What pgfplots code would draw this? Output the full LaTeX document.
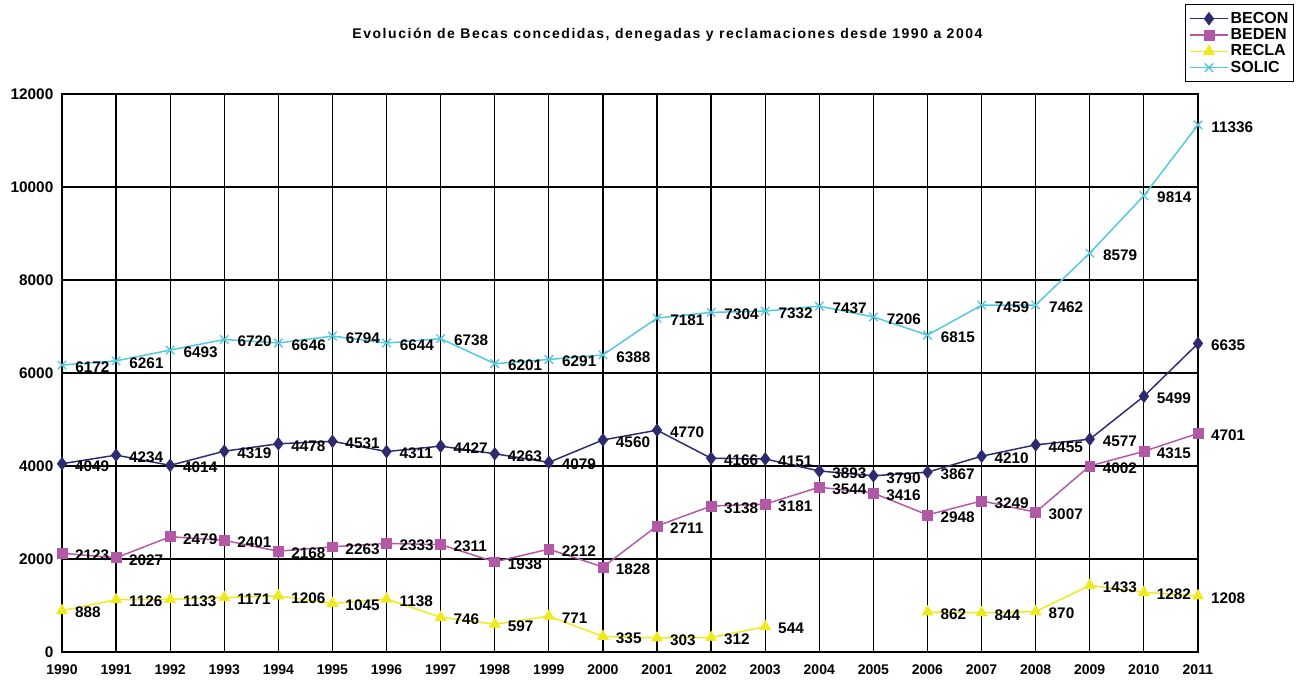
\documentclass[border=0pt]{standalone}
\usepackage{pgfplots}
\pgfplotsset{compat=1.18}
\usepackage{fontspec}
\setmainfont{Liberation Sans}
\definecolor{cBECON}{RGB}{45,42,112}
\definecolor{cBEDEN}{RGB}{178,88,166}
\definecolor{cRECLA}{RGB}{238,234,30}
\definecolor{cSOLIC}{RGB}{80,200,222}
\begin{document}
\begin{tikzpicture}[x=1pt,y=1pt]
\useasboundingbox (-46.5,-25.5) rectangle (928.5,489);
\begin{axis}[
  at={(0,0)}, anchor=south west,
  scale only axis, width=852pt, height=418.5pt,
  xmin=1990, xmax=2011, ymin=0, ymax=12000,
  xtick={1990,...,2011}, ytick={0,2000,...,12000},
  scaled y ticks=false,
  /pgf/number format/1000 sep={},
  /pgf/number format/assume math mode=true,
  grid=major,
  major grid style={black, line width=1pt},
  axis line style={black, line width=1pt},
  tick style={draw=none},
  xticklabel style={font=\bfseries\fontsize{10.5}{12}\selectfont, yshift=-6pt},
  yticklabel style={font=\bfseries\fontsize{11.5}{13}\selectfont, xshift=-3pt},
  unbounded coords=jump,
  nodes near coords,
  every node near coord/.append style={anchor=west, inner sep=0pt, xshift=9.5pt, yshift=-1.5pt,
     font=\bfseries\fontsize{11.5}{13}\selectfont, text=black,
     /pgf/number format/assume math mode=true, /pgf/number format/1000 sep={}},
  legend cell align=left,
  legend style={at={(0.9886,1.1613)}, anchor=north west, draw=black, line width=0.8pt,
     font=\bfseries\fontsize{12}{12}\selectfont, inner xsep=2.5pt, inner ysep=4.5pt, row sep=0pt,
     nodes={inner sep=1.2pt}},
  legend image code/.code={\draw[mark repeat=2, mark phase=2] plot coordinates {(0pt,0pt) (14.5pt,0pt) (29pt,0pt)};},
  clip=false,
]
\node[font=\bfseries\fontsize{10.5}{11}\selectfont\addfontfeature{LetterSpace=11}] at (axis description cs:0.533,1.106) {Evolución de Becas concedidas, denegadas y reclamaciones desde 1990 a 2004};
\addplot[cBECON, line width=1.1pt, mark=diamond*, mark size=4.7pt, mark options={fill=cBECON, line width=0.5pt}] coordinates {
(1990,4049) (1991,4234) (1992,4014) (1993,4319) (1994,4478) (1995,4531) (1996,4311) (1997,4427) (1998,4263) (1999,4079) (2000,4560) (2001,4770) (2002,4166) (2003,4151) (2004,3893) (2005,3790) (2006,3867) (2007,4210) (2008,4455) (2009,4577) (2010,5499) (2011,6635)};
\addlegendentry{BECON}
\addplot[cBEDEN, line width=1.1pt, mark=square*, mark size=3.7pt, mark options={fill=cBEDEN, line width=0.5pt}] coordinates {
(1990,2123) (1991,2027) (1992,2479) (1993,2401) (1994,2168) (1995,2263) (1996,2333) (1997,2311) (1998,1938) (1999,2212) (2000,1828) (2001,2711) (2002,3138) (2003,3181) (2004,3544) (2005,3416) (2006,2948) (2007,3249) (2008,3007) (2009,4002) (2010,4315) (2011,4701)};
\addlegendentry{BEDEN}
\addplot[cRECLA, line width=1.1pt, mark=triangle*, mark size=4.7pt, mark options={fill=cRECLA, line width=0.5pt}] coordinates {
(1990,888) (1991,1126) (1992,1133) (1993,1171) (1994,1206) (1995,1045) (1996,1138) (1997,746) (1998,597) (1999,771) (2000,335) (2001,303) (2002,312) (2003,544) (2004,nan) (2005,nan) (2006,862) (2007,844) (2008,870) (2009,1433) (2010,1282) (2011,1208)};
\addlegendentry{RECLA}
\addplot[cSOLIC, line width=1.1pt, mark=x, mark size=4.5pt, mark options={line width=1pt}] coordinates {
(1990,6172) (1991,6261) (1992,6493) (1993,6720) (1994,6646) (1995,6794) (1996,6644) (1997,6738) (1998,6201) (1999,6291) (2000,6388) (2001,7181) (2002,7304) (2003,7332) (2004,7437) (2005,7206) (2006,6815) (2007,7459) (2008,7462) (2009,8579) (2010,9814) (2011,11336)};
\addlegendentry{SOLIC}
\end{axis}
\end{tikzpicture}
\end{document}
